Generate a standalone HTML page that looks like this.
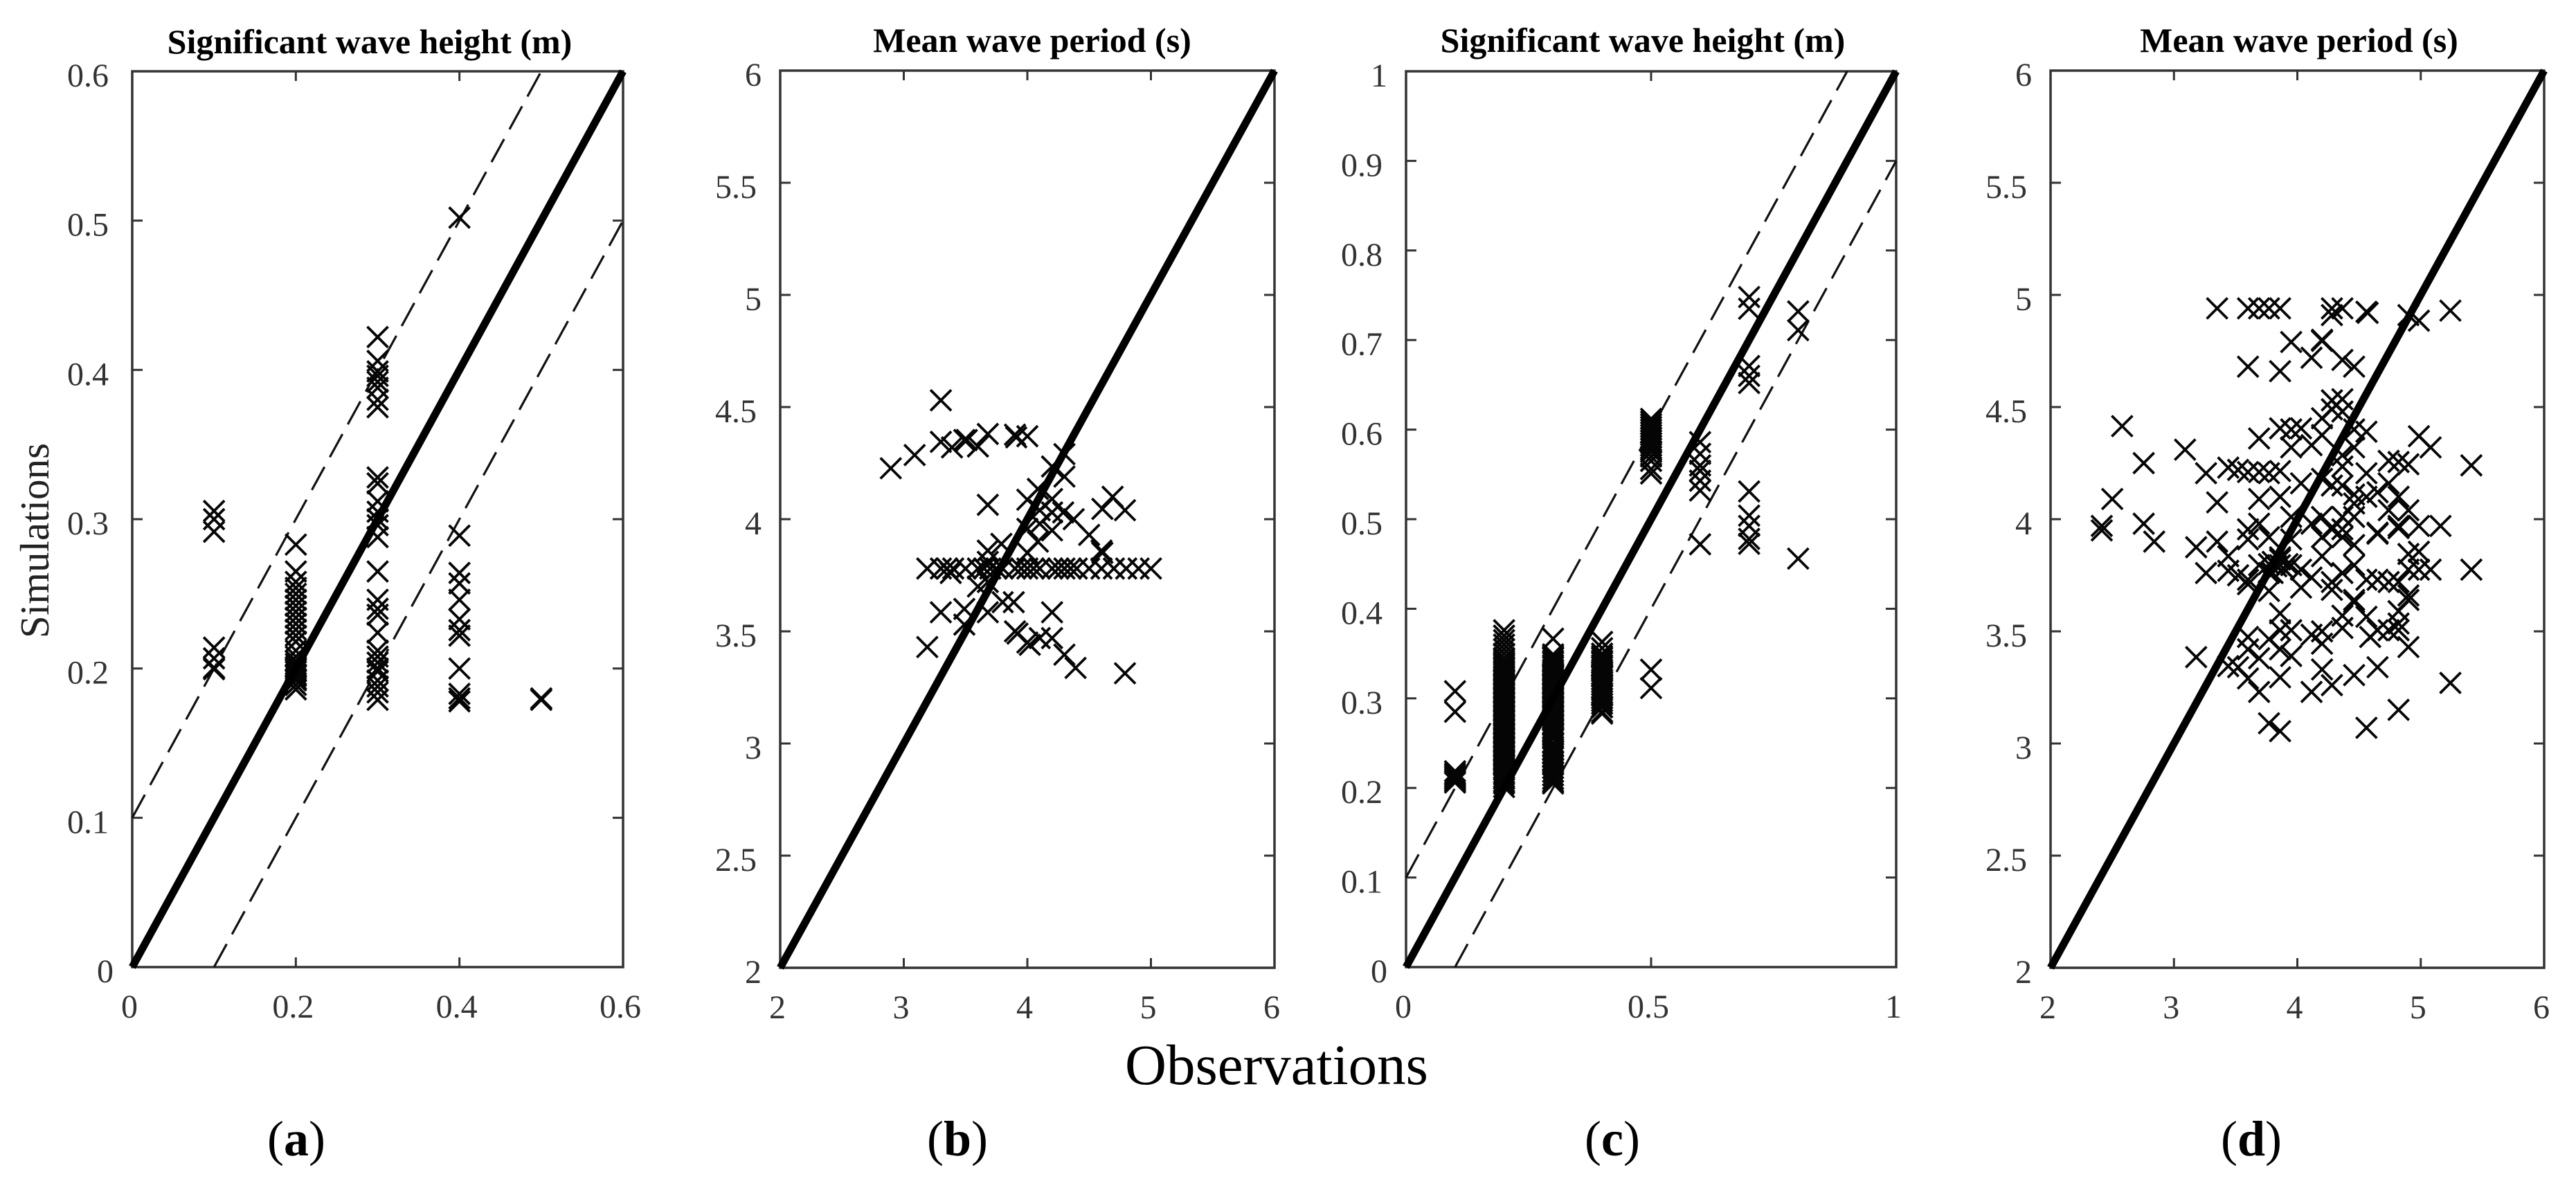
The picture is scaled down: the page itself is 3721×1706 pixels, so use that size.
<!DOCTYPE html>
<html lang="en">
<head>
<meta charset="utf-8">
<title>Wave height and period scatter comparison</title>
<style>
html,body{margin:0;padding:0;background:#fff;}
svg{display:block;font-family:"Liberation Serif",serif;}
.tick-label{font-size:48px;fill:#333;}
.panel-title{font-size:50px;font-weight:bold;fill:#000;text-anchor:middle;}
.caption{font-size:72px;fill:#000;text-anchor:middle;}
.caption tspan{font-weight:bold;}
</style>
</head>
<body>
<svg id="figure" xmlns="http://www.w3.org/2000/svg" width="3721" height="1706" viewBox="0 0 3721 1706">
  <rect width="3721" height="1706" fill="#fff"/>
  <text class="panel-title" x="534" y="77">Significant wave height (m)</text>
  <text class="panel-title" x="1491" y="75">Mean wave period (s)</text>
  <text class="panel-title" x="2373" y="75">Significant wave height (m)</text>
  <text class="panel-title" x="3321" y="75">Mean wave period (s)</text>
  <text transform="translate(70 781) rotate(-90)" text-anchor="middle" font-size="59" fill="#222">Simulations</text>
  <text x="1844" y="1566" text-anchor="middle" font-size="83" fill="#000">Observations</text>
  <text class="caption" x="428" y="1669">(<tspan>a</tspan>)</text>
  <text class="caption" x="1383" y="1669">(<tspan>b</tspan>)</text>
  <text class="caption" x="2329" y="1669">(<tspan>c</tspan>)</text>
  <text class="caption" x="3252" y="1669">(<tspan>d</tspan>)</text>
  <g id="panels"></g>
</svg>
<script>
// Panel (a): significant wave height, grouped by observed value
const obsA = [0.1, 0.2, 0.3, 0.4, 0.5];
const simsA = [
  [0.3055, 0.30, 0.2916, 0.214, 0.2068, 0.2005, 0.1995],
  [0.283, 0.265, 0.258, 0.254, 0.25, 0.246, 0.242, 0.238, 0.234, 0.23, 0.226, 0.222, 0.218, 0.212, 0.208, 0.205, 0.203, 0.201, 0.2, 0.198, 0.196, 0.195, 0.193, 0.192, 0.189, 0.186],
  [0.422, 0.406, 0.399, 0.396, 0.392, 0.388, 0.38, 0.375, 0.328, 0.324, 0.312, 0.305, 0.3, 0.296, 0.288, 0.265, 0.246, 0.24, 0.236, 0.224, 0.212, 0.208, 0.204, 0.2, 0.198, 0.192, 0.188, 0.184, 0.179],
  [0.502, 0.289, 0.264, 0.257, 0.246, 0.233, 0.2257, 0.222, 0.2, 0.183, 0.18, 0.178],
  [0.18, 0.179]
];
const xTicksA = ["0", "0.2", "0.4", "0.6"];
const yTicksA = ["0", "0.1", "0.2", "0.3", "0.4", "0.5", "0.6"];

// Panel (b): mean wave period
const obsB = [2.895, 3.088, 3.30, 3.30, 3.39, 3.49, 3.51, 3.6, 3.68, 3.9, 3.91, 4.0, 4.3, 4.2, 4.3, 4.085, 4.0, 4.2, 3.68, 4.69, 4.607, 4.79, 4.2, 4.1, 4.29, 4.375, 4.5, 4.0, 4.1, 4.2, 4.085, 3.79, 3.68, 4.0, 4.6, 4.607, 3.68, 3.19, 3.3, 3.35, 3.4, 3.5, 3.6, 3.65, 3.7, 3.75, 3.8, 3.9, 3.95, 4.0, 4.05, 4.1, 4.2, 4.25, 4.3, 4.35, 4.4, 4.5, 4.6, 4.7, 4.8, 4.9, 5.0, 3.38, 3.6, 3.68, 3.8, 3.89, 3.3, 3.49, 3.68, 4.2, 3.49, 3.9, 3.92, 4.0, 4.02, 4.1, 4.2, 3.19, 4.3, 4.39, 4.79];
const simB = [4.227, 4.286, 4.53, 4.345, 4.32, 4.353, 4.353, 4.324, 4.38, 4.377, 4.365, 4.37, 4.29, 4.235, 4.19, 4.135, 4.087, 4.09, 4.064, 4.1, 4.046, 4.04, 4.03, 4.04, 4.03, 4.0, 3.93, 3.957, 3.98, 3.95, 3.9, 3.89, 3.86, 3.85, 3.86, 3.85, 3.81, 3.78, 3.78, 3.78, 3.78, 3.78, 3.78, 3.78, 3.78, 3.78, 3.78, 3.78, 3.78, 3.78, 3.78, 3.78, 3.78, 3.78, 3.78, 3.78, 3.78, 3.78, 3.78, 3.78, 3.78, 3.78, 3.78, 3.76, 3.70, 3.72, 3.63, 3.63, 3.585, 3.6, 3.585, 3.585, 3.53, 3.5, 3.49, 3.45, 3.44, 3.47, 3.47, 3.43, 3.396, 3.337, 3.313];
const xTicksB = ["2", "3", "4", "5", "6"];
const yTicksB = ["2", "2.5", "3", "3.5", "4", "4.5", "5", "5.5", "6"];

// Panel (c): significant wave height, grouped by observed value
const obsC = [0.1, 0.2, 0.3, 0.4, 0.5, 0.6, 0.7, 0.8];
const simsC = [
  [0.308, 0.285, 0.2186, 0.216, 0.214, 0.212, 0.21, 0.208, 0.206],
  [0.376, 0.37, 0.365, 0.36, 0.355, 0.35, 0.345, 0.342, 0.34, 0.337, 0.335, 0.332, 0.33, 0.327, 0.325, 0.322, 0.32, 0.317, 0.315, 0.312, 0.31, 0.307, 0.305, 0.302, 0.3, 0.297, 0.295, 0.292, 0.29, 0.287, 0.285, 0.282, 0.28, 0.277, 0.275, 0.272, 0.27, 0.267, 0.265, 0.262, 0.26, 0.257, 0.255, 0.252, 0.25, 0.247, 0.245, 0.242, 0.24, 0.237, 0.235, 0.232, 0.23, 0.227, 0.225, 0.222, 0.22, 0.217, 0.215, 0.212, 0.21, 0.207, 0.205, 0.201],
  [0.3666, 0.349, 0.347, 0.345, 0.342, 0.34, 0.337, 0.335, 0.332, 0.33, 0.327, 0.325, 0.322, 0.32, 0.317, 0.315, 0.312, 0.31, 0.307, 0.305, 0.302, 0.3, 0.297, 0.295, 0.292, 0.29, 0.287, 0.285, 0.282, 0.28, 0.277, 0.275, 0.272, 0.27, 0.267, 0.265, 0.262, 0.26, 0.257, 0.255, 0.25, 0.246, 0.242, 0.238, 0.234, 0.23, 0.226, 0.222, 0.218, 0.214, 0.21, 0.207, 0.205],
  [0.363, 0.356, 0.35, 0.347, 0.345, 0.342, 0.34, 0.337, 0.335, 0.332, 0.33, 0.327, 0.325, 0.321, 0.318, 0.315, 0.312, 0.309, 0.306, 0.303, 0.3, 0.297, 0.294, 0.29, 0.285, 0.283],
  [0.612, 0.609, 0.606, 0.603, 0.6, 0.597, 0.594, 0.591, 0.588, 0.585, 0.582, 0.579, 0.575, 0.57, 0.565, 0.556, 0.551, 0.332, 0.3115],
  [0.586, 0.573, 0.56, 0.554, 0.543, 0.532, 0.472],
  [0.748, 0.735, 0.671, 0.66, 0.652, 0.531, 0.504, 0.4925, 0.478, 0.4725],
  [0.732, 0.711, 0.456]
];
const xTicksC = ["0", "0.5", "1"];
const yTicksC = ["0", "0.1", "0.2", "0.3", "0.4", "0.5", "0.6", "0.7", "0.8", "0.9", "1"];

// Panel (d): mean wave period
const obsD = [3.35, 3.60, 3.69, 3.77, 3.86, 4.28, 4.365, 4.28, 4.56, 4.57, 4.90, 4.985, 5.24, 3.95, 4.20, 4.20, 3.60, 3.86, 4.115, 4.365, 4.46, 4.28, 4.365, 4.20, 4.28, 4.365, 2.58, 3.09, 2.755, 3.26, 3.44, 3.52, 3.60, 3.69, 3.77, 3.86, 3.69, 3.86, 4.03, 3.95, 4.115, 3.95, 4.20, 4.56, 4.46, 4.985, 5.08, 4.74, 4.90, 4.82, 5.41, 2.50, 3.35, 3.69, 3.86, 2.415, 2.755, 4.03, 4.20, 4.365, 4.365, 4.46, 4.28, 4.365, 4.46, 4.56, 4.65, 4.74, 4.82, 4.74, 4.82, 4.90, 4.985, 5.16, 3.95, 4.20, 4.365, 4.46, 4.115, 3.60, 3.69, 4.28, 4.365, 4.65, 4.46, 4.56,
  2.415, 2.84, 3.18, 3.35, 3.44, 3.60, 3.77, 3.95, 4.20, 4.365, 4.46, 4.65, 4.82, 4.985, 4.90, 3.26, 3.44, 3.52, 3.60, 3.69, 3.77, 3.86, 3.95, 4.03, 4.115, 4.20, 4.28, 4.365, 4.46, 4.56, 4.65, 4.74, 4.82, 4.90, 4.985, 5.08, 5.41, 3.60, 3.77, 4.03, 4.28, 4.46, 4.90, 4.90, 4.82, 3.86, 4.365, 4.56, 4.46, 4.82, 4.82, 4.65, 4.59, 4.365, 4.20, 4.115, 3.95, 3.86, 3.60, 3.60, 3.77, 3.86, 3.95, 4.20, 4.74, 4.90, 3.18, 3.44, 3.52, 3.69, 3.60, 3.86, 4.20, 4.46, 4.65, 5.24, 3.69, 4.115, 4.28, 3.77, 3.86, 4.56, 4.82, 3.77, 3.80, 3.83, 3.86, 3.89, 3.92, 3.80, 3.86];
const simD = [4.94, 4.94, 4.94, 4.94, 4.94, 4.94, 4.94, 4.91, 4.925, 4.92, 4.91, 4.885, 4.93, 4.79, 4.80, 4.795, 4.68, 4.66, 4.72, 4.71, 4.68, 4.53, 4.535, 4.45, 4.49, 4.48, 4.415, 4.31, 4.25, 4.205, 4.23, 4.22, 4.21, 4.21, 4.205, 4.215, 4.36, 4.405, 4.405, 4.40, 4.33, 4.32, 4.375, 4.39, 4.40, 4.37, 4.32, 4.26, 4.245, 4.255, 4.24, 4.09, 4.075, 4.09, 4.10, 3.97, 3.98, 4.16, 4.18, 4.235, 4.285, 4.32, 4.15, 4.15, 4.11, 4.205, 4.12, 4.16, 4.10, 4.04, 3.97, 4.04, 3.97, 3.97, 4.01, 4.01, 4.01, 4.01, 3.98, 3.955, 3.98, 3.955, 3.955, 3.935, 4.07, 4.10,
  3.95, 3.90, 3.875, 3.90, 3.835, 3.91, 3.92, 3.91, 3.92, 3.92, 3.885, 3.94, 3.96, 3.855, 3.845, 3.76, 3.77, 3.75, 3.73, 3.795, 3.76, 3.795, 3.795, 3.775, 3.74, 3.835, 3.72, 3.76, 3.795, 3.73, 3.73, 3.72, 3.72, 3.775, 3.775, 3.775, 3.775, 3.71, 3.68, 3.695, 3.685, 3.64, 3.66, 3.64, 3.59, 3.58, 3.57, 3.565, 3.63, 3.535, 3.505, 3.505, 3.475, 3.515, 3.50, 3.485, 3.505, 3.505, 3.475, 3.42, 3.465, 3.42, 3.39, 3.445, 3.505, 3.43, 3.385, 3.345, 3.34, 3.38, 3.29, 3.295, 3.33, 3.305, 3.34, 3.27, 3.23, 3.23, 3.26, 3.09, 3.055, 3.07, 3.15, 3.80, 3.81, 3.79, 3.82, 3.78, 3.80, 3.76, 3.83];
const xTicksD = ["2", "3", "4", "5", "6"];
const yTicksD = ["2", "2.5", "3", "3.5", "4", "4.5", "5", "5.5", "6"];

const SVG_NS = "http://www.w3.org/2000/svg";
const root = document.getElementById("panels");

function linear(d0, d1, r0, r1) {
  return function (v) { return r0 + (v - d0) * (r1 - r0) / (d1 - d0); };
}
function create(tag, parent) {
  const el = document.createElementNS(SVG_NS, tag);
  parent.appendChild(el);
  return el;
}
function strokeLine(parent, x1, y1, x2, y2, color, width) {
  const el = create("line", parent);
  el.setAttribute("x1", x1);
  el.setAttribute("y1", y1);
  el.setAttribute("x2", x2);
  el.setAttribute("y2", y2);
  el.setAttribute("stroke", color);
  el.setAttribute("stroke-width", width);
  return el;
}

function drawPanel(id, box, domain, xTicks, yTicks, band, xs, ys) {
  const sx = linear(domain[0], domain[1], box.left, box.right);
  const sy = linear(domain[2], domain[3], box.bottom, box.top);

  const g = create("g", root);
  
  

  const frame = create("rect", g);
  
  
  frame.setAttribute("x", box.left);
  frame.setAttribute("y", box.top);
  frame.setAttribute("width", box.right - box.left);
  frame.setAttribute("height", box.bottom - box.top);
  frame.setAttribute("fill", "none");
  frame.setAttribute("stroke", "#333");
  frame.setAttribute("stroke-width", 3.5);

  xTicks.forEach(function (label) {
    const v = parseFloat(label);
    const px = sx(v);
    if (v !== domain[0] && v !== domain[1]) {
      const bottomTick = strokeLine(g, px, box.bottom, px, box.bottom - 14, "#333", 3);
      
      
      const topTick = strokeLine(g, px, box.top, px, box.top + 14, "#333", 3);
      
      
    }
    const t = create("text", g);
    
    
    t.setAttribute("class", "tick-label");
    t.setAttribute("x", px - 4);
    t.setAttribute("y", box.bottom + 73);
    t.setAttribute("text-anchor", "middle");
    t.textContent = label;
  });

  yTicks.forEach(function (label) {
    const v = parseFloat(label);
    const py = sy(v);
    if (v !== domain[2] && v !== domain[3]) {
      const leftTick = strokeLine(g, box.left, py, box.left + 15, py, "#333", 3);
      
      
      const rightTick = strokeLine(g, box.right, py, box.right - 15, py, "#333", 3);
      
      
    }
    const t = create("text", g);
    
    
    t.setAttribute("class", "tick-label");
    t.setAttribute("x", box.left - (label.length > 1 ? 34 : 27));
    t.setAttribute("y", py + 22);
    t.setAttribute("text-anchor", "end");
    t.textContent = label;
  });

  if (band > 0) {
    const upper = strokeLine(g, sx(domain[0]), sy(domain[2] + band), sx(domain[1] - band), sy(domain[3]), "#111", 3.2);
    
    
    upper.setAttribute("stroke-dasharray", "38 16");
    const lower = strokeLine(g, sx(domain[0] + band), sy(domain[2]), sx(domain[1]), sy(domain[3] - band), "#111", 3.2);
    
    
    lower.setAttribute("stroke-dasharray", "38 16");
  }

  xs.forEach(function (xv, i) {
    const cx = sx(xv);
    const cy = sy(ys[i]);
    const mark = create("path", g);
    
    
    mark.setAttribute("d", "M" + (cx - 15) + " " + (cy - 15) + "L" + (cx + 15) + " " + (cy + 15) + "M" + (cx - 15) + " " + (cy + 15) + "L" + (cx + 15) + " " + (cy - 15));
    mark.setAttribute("stroke", "#050505");
    mark.setAttribute("stroke-width", 3.8);
    mark.setAttribute("fill", "none");
  });

  const identity = strokeLine(g, sx(domain[0]), sy(domain[2]), sx(domain[1]), sy(domain[3]), "#000", 11);
  
  
  identity.setAttribute("stroke-linecap", "butt");
}

function flatX(groups, obs) {
  const out = [];
  groups.forEach(function (g, i) { g.forEach(function () { out.push(obs[i]); }); });
  return out;
}
function flatY(groups) {
  const out = [];
  groups.forEach(function (g) { g.forEach(function (v) { out.push(v); }); });
  return out;
}

drawPanel("a", {left:191, right:900, top:103, bottom:1397}, [0, 0.6, 0, 0.6], xTicksA, yTicksA, 0.1, flatX(simsA, obsA), flatY(simsA));
drawPanel("b", {left:1127, right:1841, top:102, bottom:1398}, [2, 6, 2, 6], xTicksB, yTicksB, 0, obsB, simB);
drawPanel("c", {left:2031, right:2739, top:103, bottom:1397}, [0, 1, 0, 1], xTicksC, yTicksC, 0.1, flatX(simsC, obsC), flatY(simsC));
drawPanel("d", {left:2962, right:3675, top:102, bottom:1398}, [2, 6, 2, 6], xTicksD, yTicksD, 0, obsD, simD);
</script>
</body>
</html>
